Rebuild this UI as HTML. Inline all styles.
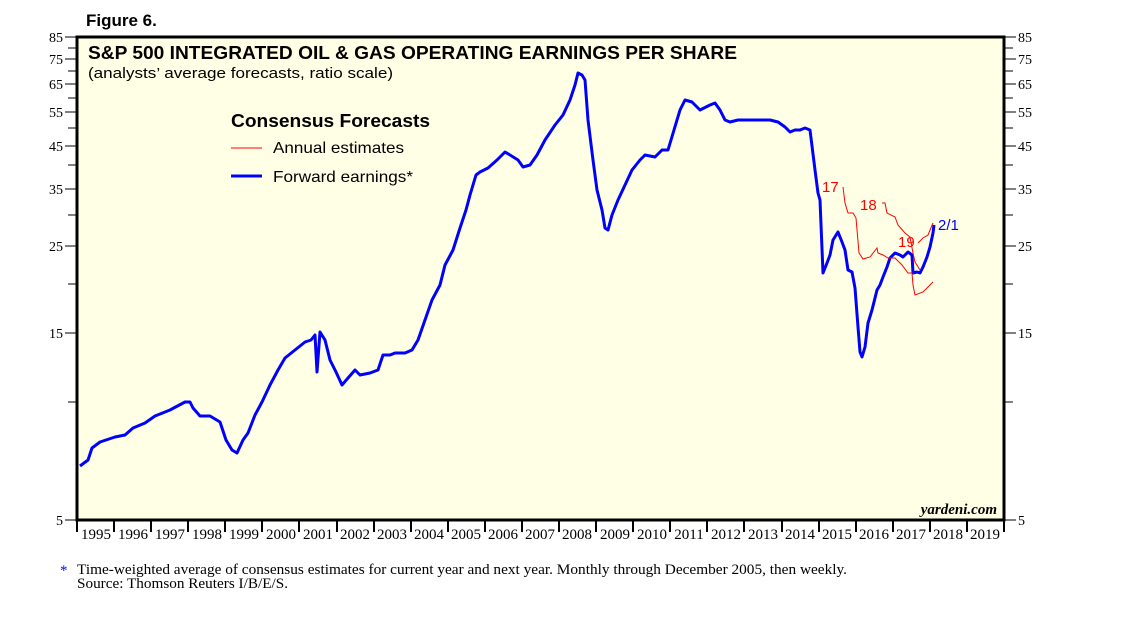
<!DOCTYPE html>
<html><head><meta charset="utf-8"><style>
body{margin:0;background:#fff;}
svg{display:block;font-family:"Liberation Sans",sans-serif;}
.s{font-family:"Liberation Serif",serif;}
</style></head><body>
<svg width="1138" height="621" viewBox="0 0 1138 621">
<text x="86" y="26" font-size="17" font-weight="bold">Figure 6.</text>
<rect x="77" y="37" width="927" height="483" fill="#ffffe6" stroke="#000" stroke-width="3"/>
<text x="88" y="59" font-size="18" font-weight="bold" textLength="649" lengthAdjust="spacingAndGlyphs">S&amp;P 500 INTEGRATED OIL &amp; GAS OPERATING EARNINGS PER SHARE</text>
<text x="88" y="78" font-size="15" textLength="305" lengthAdjust="spacingAndGlyphs">(analysts’ average forecasts, ratio scale)</text>
<text x="231" y="127" font-size="18" font-weight="bold" textLength="199" lengthAdjust="spacingAndGlyphs">Consensus Forecasts</text>
<line x1="231" y1="148" x2="262" y2="148" stroke="red" stroke-width="1"/>
<text x="273" y="153" font-size="16" textLength="131" lengthAdjust="spacingAndGlyphs">Annual estimates</text>
<line x1="231" y1="176" x2="262" y2="176" stroke="#0000ff" stroke-width="3"/>
<text x="273" y="182" font-size="16" textLength="140" lengthAdjust="spacingAndGlyphs">Forward earnings*</text>
<g stroke="#000" stroke-width="1">
<line x1="65" y1="37" x2="76" y2="37"/><line x1="65" y1="59" x2="76" y2="59"/><line x1="65" y1="84" x2="76" y2="84"/>
<line x1="68" y1="48" x2="76" y2="48"/><line x1="68" y1="71" x2="76" y2="71"/><line x1="68" y1="98" x2="76" y2="98"/>
<line x1="65" y1="112" x2="76" y2="112"/><line x1="68" y1="128" x2="76" y2="128"/><line x1="65" y1="146" x2="76" y2="146"/>
<line x1="68" y1="165" x2="76" y2="165"/><line x1="65" y1="189" x2="76" y2="189"/><line x1="68" y1="215" x2="76" y2="215"/>
<line x1="65" y1="246" x2="76" y2="246"/><line x1="68" y1="284" x2="76" y2="284"/><line x1="65" y1="333" x2="76" y2="333"/>
<line x1="68" y1="402" x2="76" y2="402"/><line x1="65" y1="520" x2="76" y2="520"/>
<line x1="1005" y1="37" x2="1016" y2="37"/><line x1="1005" y1="59" x2="1016" y2="59"/><line x1="1005" y1="84" x2="1016" y2="84"/>
<line x1="1005" y1="48" x2="1013" y2="48"/><line x1="1005" y1="71" x2="1013" y2="71"/><line x1="1005" y1="98" x2="1013" y2="98"/>
<line x1="1005" y1="112" x2="1016" y2="112"/><line x1="1005" y1="128" x2="1013" y2="128"/><line x1="1005" y1="146" x2="1016" y2="146"/>
<line x1="1005" y1="165" x2="1013" y2="165"/><line x1="1005" y1="189" x2="1016" y2="189"/><line x1="1005" y1="215" x2="1013" y2="215"/>
<line x1="1005" y1="246" x2="1016" y2="246"/><line x1="1005" y1="284" x2="1013" y2="284"/><line x1="1005" y1="333" x2="1016" y2="333"/>
<line x1="1005" y1="402" x2="1013" y2="402"/><line x1="1005" y1="520" x2="1016" y2="520"/>
</g>
<g class="s" font-size="14" text-anchor="end">
<text x="63" y="42">85</text><text x="63" y="64">75</text><text x="63" y="89">65</text><text x="63" y="117">55</text>
<text x="63" y="151">45</text><text x="63" y="194">35</text><text x="63" y="251">25</text><text x="63" y="338">15</text><text x="63" y="525">5</text>
</g>
<g class="s" font-size="14">
<text x="1018" y="42">85</text><text x="1018" y="64">75</text><text x="1018" y="89">65</text><text x="1018" y="117">55</text>
<text x="1018" y="151">45</text><text x="1018" y="194">35</text><text x="1018" y="251">25</text><text x="1018" y="338">15</text><text x="1018" y="525">5</text>
</g>
<g stroke="#000" stroke-width="2">
<line x1="77" y1="521" x2="77" y2="532"/><line x1="114" y1="521" x2="114" y2="532"/><line x1="151" y1="521" x2="151" y2="532"/><line x1="188" y1="521" x2="188" y2="532"/><line x1="225" y1="521" x2="225" y2="532"/><line x1="262" y1="521" x2="262" y2="532"/><line x1="299" y1="521" x2="299" y2="532"/><line x1="337" y1="521" x2="337" y2="532"/><line x1="374" y1="521" x2="374" y2="532"/><line x1="411" y1="521" x2="411" y2="532"/><line x1="448" y1="521" x2="448" y2="532"/><line x1="485" y1="521" x2="485" y2="532"/><line x1="522" y1="521" x2="522" y2="532"/><line x1="559" y1="521" x2="559" y2="532"/><line x1="596" y1="521" x2="596" y2="532"/><line x1="633" y1="521" x2="633" y2="532"/><line x1="670" y1="521" x2="670" y2="532"/><line x1="707" y1="521" x2="707" y2="532"/><line x1="744" y1="521" x2="744" y2="532"/><line x1="782" y1="521" x2="782" y2="532"/><line x1="819" y1="521" x2="819" y2="532"/><line x1="856" y1="521" x2="856" y2="532"/><line x1="893" y1="521" x2="893" y2="532"/><line x1="930" y1="521" x2="930" y2="532"/><line x1="967" y1="521" x2="967" y2="532"/><line x1="1004" y1="521" x2="1004" y2="532"/>
</g>
<g class="s" font-size="15" text-anchor="middle">
<text x="96" y="539">1995</text><text x="133" y="539">1996</text><text x="170" y="539">1997</text><text x="207" y="539">1998</text><text x="244" y="539">1999</text><text x="281" y="539">2000</text><text x="318" y="539">2001</text><text x="355" y="539">2002</text><text x="392" y="539">2003</text><text x="429" y="539">2004</text><text x="466" y="539">2005</text><text x="503" y="539">2006</text><text x="540" y="539">2007</text><text x="577" y="539">2008</text><text x="615" y="539">2009</text><text x="652" y="539">2010</text><text x="689" y="539">2011</text><text x="726" y="539">2012</text><text x="763" y="539">2013</text><text x="800" y="539">2014</text><text x="837" y="539">2015</text><text x="874" y="539">2016</text><text x="911" y="539">2017</text><text x="948" y="539">2018</text><text x="985" y="539">2019</text>
</g>
<polyline fill="none" stroke="#0000ff" stroke-width="3" stroke-linejoin="round" points="80,466 88,460 92,448 100,442 115,437 125,435 133,428 145,423 155,416 170,410 185,402 190,402 193,408 200,416 210,416 220,422 226,440 232,450 237,453 243,440 248,433 255,415 262,402 270,385 278,370 285,358 295,350 305,342 311,340 315,335 317,372 320,332 325,340 330,360 336,372 342,385 348,378 355,370 360,375 370,373 378,370 383,355 390,355 395,353 405,353 412,350 418,340 425,320 432,300 440,285 445,265 453,250 460,228 466,210 470,195 476,175 480,172 488,168 497,160 505,152 510,155 518,160 523,167 530,165 537,155 545,140 555,125 563,115 570,100 575,85 578,73 582,75 585,80 588,120 593,160 597,190 602,210 605,228 608,230 612,215 618,200 625,185 632,170 640,160 645,155 655,157 662,150 668,150 674,130 680,110 685,100 692,102 700,110 710,105 715,103 720,110 725,120 730,122 738,120 748,120 760,120 770,120 778,122 785,127 790,132 795,130 800,130 805,128 810,130 815,170 818,193 820,200 823,273 827,263 830,255 833,240 838,232 842,242 845,250 848,270 852,272 855,288 858,327 860,352 862,357 865,347 868,323 872,310 877,290 880,285 883,277 887,267 890,258 895,253 900,255 903,257 908,252 912,255 913,273 917,272 920,273 923,267 927,257 930,247 933,233 934,225"/>
<g fill="none" stroke="red" stroke-width="1">
<polyline points="843,187 845,203 848,213 853,213 856,218 859,253 863,259 870,257 877,248 878,253 883,255 888,258 895,258 902,265 908,273 912,273 913,285 915,295 923,292 933,282"/>
<polyline points="882,203 885,203 887,213 895,217 898,225 905,233 910,237 913,253 915,262 920,270"/>
<polyline points="918,243 923,238 928,235 933,223"/>
</g>
<text x="822" y="192" font-size="15" fill="red">17</text>
<text x="860" y="210" font-size="15" fill="red">18</text>
<text x="898" y="247" font-size="15" fill="red">19</text>
<text x="938" y="230" font-size="15" fill="#0000ff">2/1</text>
<text x="997" y="514" font-size="15" font-style="italic" font-weight="bold" text-anchor="end" class="s">yardeni.com</text>
<text x="60" y="575" font-size="15" fill="#0000ff" class="s">*</text>
<text x="77" y="574" font-size="15" class="s" textLength="770" lengthAdjust="spacingAndGlyphs">Time-weighted average of consensus estimates for current year and next year. Monthly through December 2005, then weekly.</text>
<text x="77" y="588" font-size="15" class="s" textLength="211" lengthAdjust="spacingAndGlyphs">Source: Thomson Reuters I/B/E/S.</text>
</svg>
</body></html>
